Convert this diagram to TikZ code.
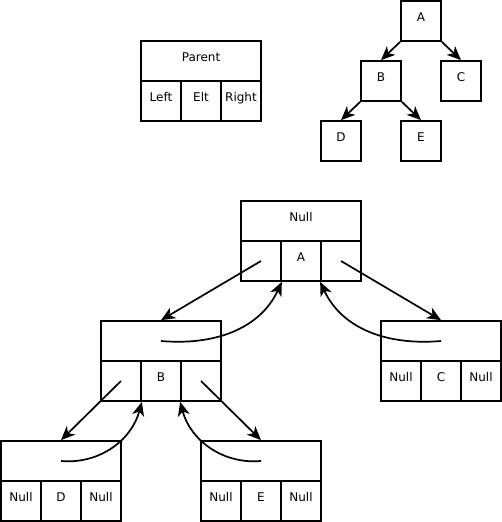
\documentclass[tikz,border=0pt]{standalone}
\usepackage{fontspec}
\setmainfont{DejaVu Sans}
\usetikzlibrary{arrows.meta}
\begin{document}
\begin{tikzpicture}[x=1pt,y=1pt,
  cell/.style={draw,line width=1.7pt,minimum width=40pt,minimum height=40pt,inner sep=0pt,
    text height=5pt,text depth=3pt,font=\fontsize{12}{14}\selectfont},
  wide/.style={cell,minimum width=120pt},
  arr/.style={line width=1.7pt,-{Stealth[length=14pt,width=12pt,inset=4pt]}}]
\useasboundingbox (0,0) rectangle (502,522);
% legend
\node[wide] (par) at (201,461) {Parent};
\node[cell] (pl) at (161,421) {Left};
\node[cell] (pe) at (201,421) {Elt};
\node[cell] (pr) at (241,421) {Right};
% small tree
\node[cell] (ta) at (421,501) {A};
\node[cell] (tb) at (381,441) {B};
\node[cell] (tc) at (461,441) {C};
\node[cell] (td) at (341,381) {D};
\node[cell] (te) at (421,381) {E};
\draw[arr] (ta.south west) -- (tb.north);
\draw[arr] (ta.south east) -- (tc.north);
\draw[arr] (tb.south west) -- (td.north);
\draw[arr] (tb.south east) -- (te.north);
% big A
\node[wide] (at) at (301,301) {Null};
\node[cell] (al) at (261,261) {};
\node[cell] (ae) at (301,261) {A};
\node[cell] (ar) at (341,261) {};
% B
\node[wide] (bt) at (161,181) {};
\node[cell] (bl) at (121,141) {};
\node[cell] (be) at (161,141) {B};
\node[cell] (br) at (201,141) {};
% C
\node[wide] (ct) at (441,181) {};
\node[cell] (cl) at (401,141) {Null};
\node[cell] (ce) at (441,141) {C};
\node[cell] (cr) at (481,141) {Null};
% D
\node[wide] (dt) at (61,61) {};
\node[cell] (dl) at (21,21) {Null};
\node[cell] (de) at (61,21) {D};
\node[cell] (dr) at (101,21) {Null};
% E
\node[wide] (et) at (261,61) {};
\node[cell] (el) at (221,21) {Null};
\node[cell] (ee) at (261,21) {E};
\node[cell] (er) at (301,21) {Null};
% pointers
\draw[arr] (al.center) -- (bt.north);
\draw[arr] (bt.center) to[out=-5,in=-115] (al.south east);
\draw[arr] (ar.center) -- (ct.north);
\draw[arr] (ct.center) to[out=185,in=-65] (ar.south west);
\draw[arr] (bl.center) -- (dt.north);
\draw[arr] (dt.center) to[out=-5,in=-105] (bl.south east);
\draw[arr] (br.center) -- (et.north);
\draw[arr] (et.center) to[out=185,in=-75] (br.south west);
\end{tikzpicture}
\end{document}
